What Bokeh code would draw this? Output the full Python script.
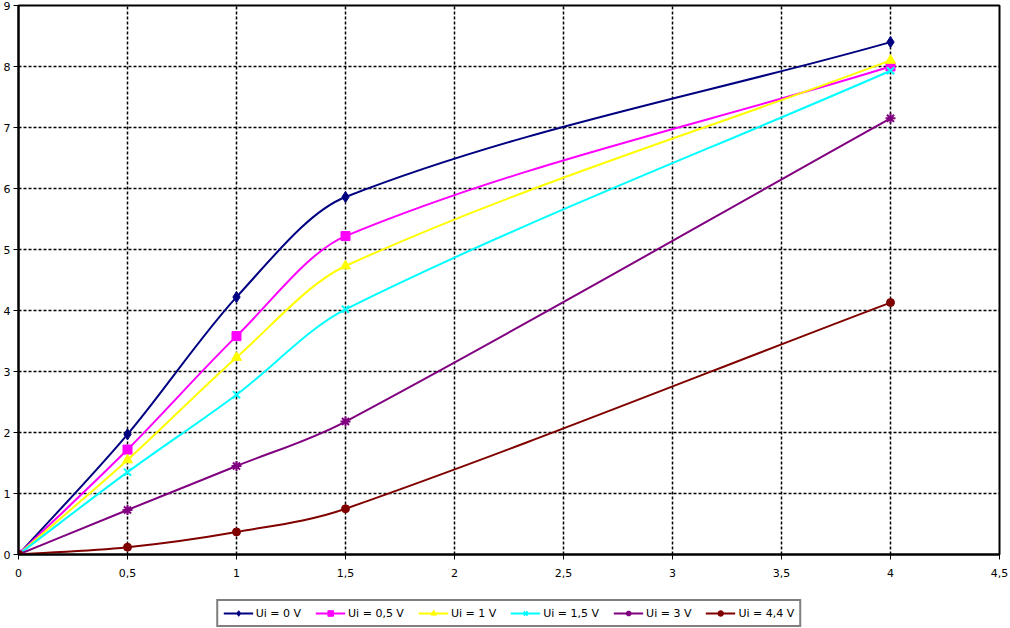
from bokeh.plotting import figure
from bokeh.models import Range1d, FixedTicker, Legend, LegendItem, ColumnDataSource
from bokeh.layouts import column
from bokeh.embed import file_html
from bokeh.resources import INLINE

x_vals = [0, 0.5, 1, 1.5, 4]
labels = ["Ui = 0 V", "Ui = 0,5 V", "Ui = 1 V", "Ui = 1,5 V", "Ui = 3 V", "Ui = 4,4 V"]
ui_0 = [0, 1.97, 4.22, 5.86, 8.40]
ui_05 = [0, 1.72, 3.58, 5.22, 8.00]
ui_1 = [0, 1.55, 3.23, 4.73, 8.10]
ui_15 = [0, 1.35, 2.62, 4.02, 7.93]
ui_3 = [0, 0.73, 1.45, 2.18, 7.15]
ui_44 = [0, 0.12, 0.37, 0.75, 4.13]
series = [ui_0, ui_05, ui_1, ui_15, ui_3, ui_44]
colors = ["#000080", "#FF00FF", "#FFFF00", "#00FFFF", "#800080", "#800000"]
markers = ["diamond", "square", "triangle", "x", "asterisk", "circle"]
msizes = [11, 9, 10, 10, 10, 8]

x_ticks = [0, 0.5, 1, 1.5, 2, 2.5, 3, 3.5, 4, 4.5]
x_tick_labels = ["0", "0,5", "1", "1,5", "2", "2,5", "3", "3,5", "4", "4,5"]
y_ticks = list(range(0, 10))

FONT = "DejaVu Sans"
W = 1008

p = figure(width=W, height=579, output_backend="svg", toolbar_location=None,
           x_range=Range1d(0, 4.5), y_range=Range1d(0, 9),
           min_border_left=10, min_border_right=9, min_border_top=5, min_border_bottom=0)
p.background_fill_color = "white"
p.border_fill_color = "white"
p.outline_line_color = "black"
p.outline_line_width = 2

for ax in (p.xaxis[0], p.yaxis[0]):
    ax.axis_line_color = "black"
    ax.axis_line_width = 2
    ax.major_tick_line_color = "black"
    ax.major_tick_line_width = 1
    ax.major_tick_in = 0
    ax.major_tick_out = 5
    ax.minor_tick_line_color = None
    ax.major_label_text_font = FONT
    ax.major_label_text_font_size = "11px"
    ax.major_label_text_color = "black"

p.xaxis.ticker = FixedTicker(ticks=x_ticks)
p.xaxis.major_label_overrides = {t: l for t, l in zip(x_ticks, x_tick_labels)}
p.xaxis.major_label_standoff = 9
p.yaxis.ticker = FixedTicker(ticks=y_ticks)
p.yaxis.major_label_standoff = 3

for g in (p.xgrid[0], p.ygrid[0]):
    g.grid_line_color = "black"
    g.grid_line_dash = "3 2"
    g.grid_line_width = 1.5


def slopes(xs, ys):
    n = len(xs)
    m = []
    for i in range(n):
        a = max(i - 1, 0)
        b = min(i + 1, n - 1)
        m.append((ys[b] - ys[a]) / (xs[b] - xs[a]))
    return m


for ys, col, mk, ms in zip(series, colors, markers, msizes):
    n = len(x_vals)
    m = slopes(x_vals, ys)
    d = dict(x0=[], y0=[], x1=[], y1=[], cx0=[], cy0=[], cx1=[], cy1=[])
    for i in range(n - 1):
        h = (x_vals[i + 1] - x_vals[i]) / 3
        d["x0"].append(x_vals[i]); d["y0"].append(ys[i])
        d["x1"].append(x_vals[i + 1]); d["y1"].append(ys[i + 1])
        d["cx0"].append(x_vals[i] + h); d["cy0"].append(ys[i] + m[i] * h)
        d["cx1"].append(x_vals[i + 1] - h); d["cy1"].append(ys[i + 1] - m[i + 1] * h)
    p.bezier(x0="x0", y0="y0", x1="x1", y1="y1", cx0="cx0", cy0="cy0", cx1="cx1", cy1="cy1",
             source=ColumnDataSource(d), line_color=col, line_width=2)
    lw = 2 if mk in ("x", "asterisk") else 1
    p.scatter(x_vals, ys, marker=mk, size=ms, fill_color=col, line_color=col, line_width=lw)

# legend strip below the chart (its renderers lie outside its view, only the legend shows)
lg = figure(width=W, height=49, output_backend="svg", toolbar_location=None,
            x_range=Range1d(-20, -10), y_range=Range1d(-20, -10),
            x_axis_type=None, y_axis_type=None,
            min_border_left=0, min_border_right=0, min_border_top=0, min_border_bottom=0)
lg.outline_line_color = None
lg.xgrid.visible = False
lg.ygrid.visible = False
items = []
for ys, col, mk, ms, lab in zip(series, colors, markers, msizes, labels):
    r_line = lg.line(x_vals, ys, line_color=col, line_width=2)
    lw = 2 if mk in ("x", "asterisk") else 1
    r_pts = lg.scatter(x_vals, ys, marker=mk, size=ms, fill_color=col, line_color=col, line_width=lw)
    items.append(LegendItem(label=lab, renderers=[r_line, r_pts]))

legend = Legend(items=items, orientation="horizontal", location="bottom_center",
                label_text_font=FONT, label_text_font_size="11px", label_text_color="black",
                border_line_color="black", border_line_width=2, background_fill_color="white",
                glyph_width=30, glyph_height=14, label_standoff=3, spacing=14,
                padding=5, margin=1, label_height=14)
lg.add_layout(legend, "center")

layout = column(p, lg, spacing=0)
open("out.html", "w").write(file_html(layout, INLINE))
